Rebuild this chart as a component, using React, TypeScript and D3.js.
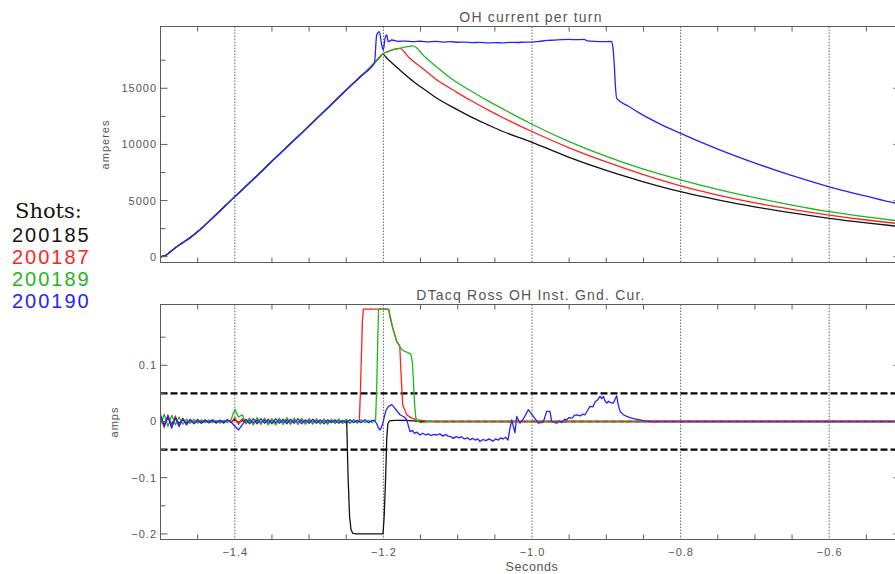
import React from 'react'
import * as d3 from 'd3'

// shots and their colours
const shots = ['200185', '200187', '200189', '200190']
const colors = ['#111111', '#ff1f1f', '#1fb51f', '#2222ff']

// axis ticks
const xMajor = [-1.4, -1.2, -1.0, -0.8, -0.6]
const xMinor = [-1.45, -1.35, -1.3, -1.25, -1.15, -1.1, -1.05, -0.95, -0.9, -0.85, -0.75, -0.7, -0.65, -0.55]
const topMajor = [0, 5000, 10000, 15000]
const topMinor = [2500, 7500, 12500, 17500]
const botMajor = [-0.2, -0.1, 0, 0.1]
const botMinor = [-0.15, -0.05, 0.05, 0.15]
const limits = [-0.05, 0.05]

// OH current, shared ramp (seconds, amperes)
const rampSec = [-1.5, -1.497, -1.493, -1.488, -1.48, -1.47, -1.46, -1.447, -1.43, -1.4, -1.375, -1.35, -1.325, -1.3, -1.275, -1.25, -1.23, -1.212]
const rampAmp = [-80, 60, 120, 380, 800, 1250, 1700, 2400, 3450, 5350, 6900, 8500, 10080, 11650, 13250, 14850, 16100, 17250]

// OH current after the ramp, per shot
const oh185: [number, number][] = [
  [-1.206, 17700], [-1.201, 18050], [-1.195, 17650], [-1.185, 17050], [-1.173, 16340], [-1.16, 15620],
  [-1.15, 15140], [-1.128, 14110], [-1.105, 13250], [-1.083, 12480], [-1.06, 11770], [-1.039, 11150],
  [-1.0, 10190], [-0.95, 8850], [-0.9, 7680], [-0.85, 6670], [-0.8, 5790], [-0.75, 5070], [-0.7, 4440],
  [-0.65, 3900], [-0.6, 3420], [-0.55, 3010], [-0.5, 2650],
]
const oh187: [number, number][] = [
  [-1.206, 17700], [-1.201, 18050], [-1.195, 18250], [-1.188, 18420], [-1.178, 18560], [-1.165, 17700],
  [-1.15, 16920], [-1.128, 15740], [-1.105, 14800], [-1.083, 13930], [-1.06, 13100], [-1.039, 12380],
  [-1.0, 11150], [-0.95, 9700], [-0.9, 8440], [-0.85, 7300], [-0.8, 6300], [-0.75, 5490], [-0.7, 4800],
  [-0.65, 4220], [-0.6, 3710], [-0.55, 3270], [-0.5, 2890],
]
const oh189: [number, number][] = [
  [-1.206, 17700], [-1.201, 18050], [-1.195, 18250], [-1.188, 18420], [-1.178, 18560], [-1.17, 18680],
  [-1.16, 18770], [-1.145, 17850], [-1.128, 16880], [-1.105, 15700], [-1.083, 14800], [-1.06, 13900],
  [-1.039, 13150], [-1.0, 11800], [-0.95, 10250], [-0.9, 8930], [-0.85, 7800], [-0.8, 6850], [-0.75, 6000],
  [-0.7, 5260], [-0.65, 4600], [-0.6, 4010], [-0.55, 3540], [-0.5, 3130],
]
const oh190: [number, number][] = [
  [-1.212, 17300], [-1.209, 19750], [-1.2055, 20040], [-1.2023, 18860], [-1.2001, 18410], [-1.1978, 19450],
  [-1.1956, 19750], [-1.1934, 19150], [-1.1888, 19300], [-1.18, 19180], [-1.17, 19210], [-1.16, 19150],
  [-1.15, 19190], [-1.14, 19140], [-1.13, 19180], [-1.12, 19120], [-1.11, 19150], [-1.1, 19100],
  [-1.09, 19120], [-1.08, 19070], [-1.07, 19090], [-1.06, 19040], [-1.05, 19060], [-1.04, 19050],
  [-1.03, 19090], [-1.02, 19080], [-1.01, 19120], [-1.0, 19110], [-0.99, 19180], [-0.98, 19260],
  [-0.97, 19290], [-0.96, 19330], [-0.95, 19350], [-0.94, 19330], [-0.93, 19350], [-0.925, 19220],
  [-0.915, 19180], [-0.905, 19160], [-0.895, 19170], [-0.893, 19150], [-0.891, 18600], [-0.889, 16800],
  [-0.888, 15500], [-0.886, 14110], [-0.87, 13400], [-0.8546, 12770], [-0.83, 11900], [-0.8, 10990],
  [-0.75, 9590], [-0.711, 8610], [-0.653, 7280], [-0.6, 6230], [-0.55, 5390], [-0.511, 4780], [-0.5, 4650],
]

// ground current: noise before the events (milliamps, every 5 ms from -1.5 s)
const noiseStart = -1.5
const noiseStep = 0.005
const noise185 = [4, -5, 6, -4, 5, -3, 3, -2, 2, -2, 2, -1, 2, -2, 1, -2, 2, -1, 2, -1, 3, -2, 2, -2, 2, -2, 2, -2, 2, -2, 2, -2, 2, -2, 2, -2, 2, -2, 2, -2, 2, -2, 2, -2, 2, -2, 2, -2, 2, -2, 2, -2, 2, -2, 2, -2, 2, -2]
const noise187 = [9, -11, 12, -8, 10, -7, 6, -5, 4, -3, 4, -3, 3, -2, 3, -3, 2, -3, 3, -2, 7, -5, 5, -4, 4, -5, 5, -4, 5, -4, 4, -5, 4, -4, 5, -4, 4, -4, 5, -3, 4, -4, 3, -4, 4, -3, 3, -3, 4, -3, 3, -3, 3, -2, 3, -2, 3, -2]
const noise189 = [-6, 13, -9, 11, -6, 8, -5, 4, -3, 4, -3, 3, -2, 3, -2, 2, -3, 2, -2, 3, 22, 8, 12, -3, 6, -6, 7, -5, 6, -6, 5, -6, 6, -5, 7, -5, 6, -5, 5, -5, 5, -4, 5, -4, 4, -5, 4, -3, 4, -3, 4, -3, 3, -3, 3, -2, 2, -2]
const noise190 = [12, -8, 10, -12, 7, -9, 5, -6, 3, -4, 2, -3, 2, -2, 3, -2, 2, -2, 3, -1, -8, -15, -6, 4, -4, 5, -4, 5, -3, 4, -4, 5, -3, 4, -4, 4, -3, 5, -4, 3, -3, 4, -3, 3, -4, 3, -2, 3, -3, 2, -3, 3, -2, 2, -2, 3, -2, 2]

// ground current events (seconds, amps)
const gnd185: [number, number][] = [
  [-1.2494, 0.0], [-1.2475, -0.1], [-1.2455, -0.17], [-1.2435, -0.193], [-1.241, -0.199], [-1.236, -0.2],
  [-1.2005, -0.2], [-1.199, -0.17], [-1.197, -0.1], [-1.1955, -0.03], [-1.194, -0.004], [-1.192, 0.001],
  [-1.185, 0.002], [-1.17, 0.002], [-1.16, 0.001], [-1.15, 0.0], [-0.5, 0.0],
]
const gnd187: [number, number][] = [
  [-1.2324, 0.002], [-1.231, 0.05], [-1.2295, 0.12], [-1.2282, 0.18], [-1.227, 0.2], [-1.193, 0.2],
  [-1.188, 0.17], [-1.182, 0.142], [-1.178, 0.135], [-1.1763, 0.086], [-1.174, 0.03], [-1.1686, 0.012],
  [-1.162, 0.006], [-1.155, 0.003], [-1.142, 0.001], [-1.13, 0.0], [-0.5, 0.0],
]
const gnd189: [number, number][] = [
  [-1.2105, 0.003], [-1.209, 0.06], [-1.2075, 0.15], [-1.2065, 0.2], [-1.193, 0.2], [-1.191, 0.185],
  [-1.188, 0.168], [-1.182, 0.142], [-1.178, 0.133], [-1.1745, 0.127], [-1.168, 0.123], [-1.163, 0.12],
  [-1.161, 0.105], [-1.1595, 0.07], [-1.158, 0.03], [-1.1565, 0.008], [-1.155, 0.001], [-1.15, -0.002],
  [-1.145, -0.001], [-1.14, 0.0], [-0.5, 0.0],
]
const gnd190: [number, number][] = [
  [-1.212, 0.002], [-1.209, -0.004], [-1.2065, -0.012], [-1.2046, -0.015], [-1.2025, -0.01], [-1.2005, -0.002],
  [-1.1985, 0.01], [-1.1965, 0.02], [-1.193, 0.027], [-1.1888, 0.03], [-1.186, 0.026], [-1.1777, 0.012],
  [-1.172, 0.008], [-1.1686, 0.003], [-1.1642, -0.018], [-1.161, -0.016], [-1.158, -0.021], [-1.155, -0.019],
  [-1.1507, -0.024], [-1.147, -0.021], [-1.143, -0.024], [-1.14, -0.022], [-1.136, -0.025], [-1.132, -0.023],
  [-1.1283, -0.024], [-1.124, -0.022], [-1.12, -0.026], [-1.116, -0.023], [-1.113, -0.026], [-1.109, -0.027],
  [-1.1059, -0.03], [-1.102, -0.027], [-1.098, -0.029], [-1.095, -0.027], [-1.091, -0.031], [-1.087, -0.029],
  [-1.0834, -0.0326], [-1.08, -0.03], [-1.076, -0.033], [-1.073, -0.031], [-1.07, -0.0356], [-1.066, -0.032],
  [-1.062, -0.034], [-1.058, -0.031], [-1.0525, -0.035], [-1.049, -0.031], [-1.045, -0.033], [-1.042, -0.029],
  [-1.039, -0.031], [-1.0355, -0.028], [-1.0323, -0.033], [-1.03, -0.015], [-1.0273, 0.003], [-1.0229, -0.02],
  [-1.0206, 0.009], [-1.0162, -0.003], [-1.011, 0.006], [-1.005, 0.021], [-0.9982, 0.009], [-0.9915, -0.003],
  [-0.9848, -0.001], [-0.9802, 0.018], [-0.9758, 0.018], [-0.9735, 0.0], [-0.9668, -0.003], [-0.963, 0.001],
  [-0.96, -0.002], [-0.956, 0.004], [-0.9533, 0.003], [-0.95, 0.007], [-0.946, 0.006], [-0.943, 0.011],
  [-0.9398, 0.012], [-0.935, 0.01], [-0.932, 0.013], [-0.9287, 0.012], [-0.925, 0.02], [-0.922, 0.027],
  [-0.918, 0.026], [-0.915, 0.035], [-0.912, 0.038], [-0.9085, 0.0445], [-0.906, 0.041], [-0.904, 0.0445],
  [-0.9015, 0.036], [-0.8995, 0.0326], [-0.897, 0.036], [-0.895, 0.034], [-0.8906, 0.0326], [-0.888, 0.04],
  [-0.886, 0.0457], [-0.884, 0.03], [-0.8815, 0.018], [-0.877, 0.012], [-0.8725, 0.009], [-0.868, 0.007],
  [-0.8635, 0.005], [-0.8547, 0.003], [-0.848, 0.001], [-0.8412, 0.0], [-0.5, 0.0],
]

const W = 895
const H = 574
const LEFT = 160.5
const RIGHT = 903.5

const x = d3.scaleLinear().domain([-1.5, -0.5]).range([LEFT, RIGHT])
const yTop = d3.scaleLinear().domain([-517, 20504]).range([262.5, 26.5])
const yBot = d3.scaleLinear().domain([-0.20996, 0.20819]).range([539.5, 304.5])

const ramp: [number, number][] = rampSec.map((t, i) => [t, rampAmp[i]])
const topSeries = [oh185, oh187, oh189, oh190].map(tail =>
  ramp.filter(p => p[0] < tail[0][0]).concat(tail)
)
const botSeries = [noise185, noise187, noise189, noise190].map((noise, k) => {
  const ev = [gnd185, gnd187, gnd189, gnd190][k]
  const pre: [number, number][] = noise.map((v, i) => [noiseStart + i * noiseStep, v / 1000])
  return pre.filter(p => p[0] < ev[0][0]).concat(ev)
})
// red's flat tail is drawn again on top, dashed, so the overlapping zero lines alternate like the original
const redTail = gnd187.slice(-2)

const AX = '#5a5a5a'
const TXT = '#555'
const FONT = '"Liberation Sans", Arial, Helvetica, sans-serif'

function Panel(props: {
  id: string
  y: d3.ScaleLinear<number, number>
  series: [number, number][][]
  curve: d3.CurveFactory
  major: number[]
  minor: number[]
  fmt: (v: number) => string
  title: string
  titleY: number
  ylabel: string
  ylabelX: number
  xLabels: boolean
  dashed: boolean
}) {
  const { id, y, series, major, minor, fmt } = props
  const [y0, y1] = y.range()
  const top = Math.min(y0, y1)
  const bot = Math.max(y0, y1)
  const line = d3
    .line<[number, number]>()
    .x(d => x(d[0]))
    .y(d => y(d[1]))
    .curve(props.curve)

  return (
    <g>
      <defs>
        <clipPath id={id}>
          <rect x={LEFT} y={top} width={RIGHT - LEFT} height={bot - top} />
        </clipPath>
      </defs>

      {xMajor.map(t => (
        <line key={'g' + t} x1={x(t)} x2={x(t)} y1={top} y2={bot} stroke="#666" strokeWidth={1} strokeDasharray="1.5,1.5" />
      ))}

      {props.dashed &&
        limits.map(v => (
          <line key={'d' + v} x1={LEFT} x2={RIGHT} y1={y(v)} y2={y(v)} stroke="#000" strokeWidth={2.2} strokeDasharray="7,3" />
        ))}

      <g clipPath={`url(#${id})`}>
        {series.map((s, i) => (
          <path key={i} d={line(s) || ''} fill="none" stroke={colors[i]} strokeWidth={1.3} strokeLinejoin="round" />
        ))}
        {props.dashed && (
          <path d={line(redTail) || ''} fill="none" stroke={colors[1]} strokeWidth={1.3} strokeDasharray="4,4" />
        )}
      </g>

      <rect x={LEFT} y={top} width={RIGHT - LEFT} height={bot - top} fill="none" stroke={AX} strokeWidth={1} />

      {xMinor.map(t => (
        <g key={'xm' + t}>
          <line x1={x(t)} x2={x(t)} y1={bot} y2={bot - 5} stroke={AX} />
          <line x1={x(t)} x2={x(t)} y1={top} y2={top + 5} stroke={AX} />
        </g>
      ))}

      {major.map(v => (
        <g key={'ym' + v}>
          <line x1={LEFT} x2={LEFT + 7} y1={y(v)} y2={y(v)} stroke={AX} />
          <line x1={RIGHT} x2={RIGHT - 10} y1={y(v)} y2={y(v)} stroke={AX} />
          <text x={157} y={y(v)} dy="0.36em" textAnchor="end" fontSize={11} letterSpacing={1} fill={TXT} fontFamily={FONT}>
            {fmt(v)}
          </text>
        </g>
      ))}
      {minor.map(v => (
        <g key={'yn' + v}>
          <line x1={LEFT} x2={LEFT + 5} y1={y(v)} y2={y(v)} stroke={AX} />
          <line x1={RIGHT} x2={RIGHT - 5} y1={y(v)} y2={y(v)} stroke={AX} />
        </g>
      ))}

      {props.xLabels &&
        xMajor.map(t => (
          <text key={'xl' + t} x={x(t) + 0.5} y={556} textAnchor="middle" fontSize={11} letterSpacing={1} fill={TXT} fontFamily={FONT}>
            {d3.format('.1f')(t)}
          </text>
        ))}

      <text x={531} y={props.titleY} textAnchor="middle" fontSize={14} letterSpacing={1.2} fill={TXT} fontFamily={FONT}>
        {props.title}
      </text>
      <text
        transform={`translate(${props.ylabelX},${(top + bot) / 2}) rotate(-90)`}
        textAnchor="middle"
        fontSize={11}
        letterSpacing={1}
        fill={TXT}
        fontFamily={FONT}
      >
        {props.ylabel}
      </text>
    </g>
  )
}

export default function App() {
  const fmtBot = (v: number) => (v === 0 ? '0' : d3.format('.1f')(v))
  return (
    <svg width={W} height={H} style={{ position: 'absolute', left: 0, top: 0, background: '#fff' }}>
      <Panel
        id="clipTop"
        y={yTop}
        series={topSeries}
        curve={d3.curveMonotoneX}
        major={topMajor}
        minor={topMinor}
        fmt={d3.format('d')}
        title="OH current per turn"
        titleY={21.5}
        ylabel="amperes"
        ylabelX={109}
        xLabels={false}
        dashed={false}
      />
      <Panel
        id="clipBot"
        y={yBot}
        series={botSeries}
        curve={d3.curveLinear}
        major={botMajor}
        minor={botMinor}
        fmt={fmtBot}
        title="DTacq Ross OH Inst. Gnd. Cur."
        titleY={299.5}
        ylabel="amps"
        ylabelX={118}
        xLabels={true}
        dashed={true}
      />
      <text x={532} y={571} textAnchor="middle" fontSize={12.5} letterSpacing={0.6} fill={TXT} fontFamily={FONT}>
        Seconds
      </text>

      <text x={15} y={218} fontSize={21} fill="#111" fontFamily='"DejaVu Serif", serif'>
        Shots:
      </text>
      {shots.map((s, i) => (
        <text key={s} x={12} y={241.7 + i * 22.2} fontSize={20} letterSpacing={2} fill={colors[i]} fontFamily={FONT}>
          {s}
        </text>
      ))}
    </svg>
  )
}
